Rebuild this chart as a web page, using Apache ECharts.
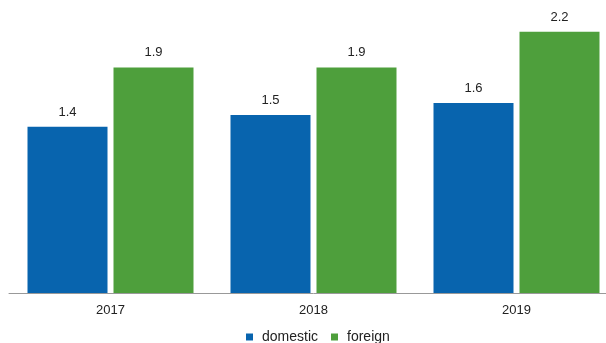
<!DOCTYPE html>
<html><head><meta charset="utf-8">
<script src="https://cdn.jsdelivr.net/npm/echarts@6/dist/echarts.min.js"></script>
<style>html,body{margin:0;padding:0;background:#fff;overflow:hidden;width:606px;height:343px}#c{width:618px;height:343px}</style>
</head><body><div id="c"></div>
<script>
const categories = ['2017', '2018', '2019'];
const domestic = [1.4, 1.5, 1.6];
const foreign = [1.9, 1.9, 2.2];
const seriesNames = ['domestic', 'foreign'];

const chart = echarts.init(document.getElementById('c'), null, {renderer: 'canvas'});
const font = 'Liberation Sans, Arial, sans-serif';
chart.setOption({
  animation: false,
  textStyle: {fontFamily: font},
  grid: {left: 9, right: 0, top: 8, bottom: 50, containLabel: false},
  legend: {
    data: seriesNames, left: 241, top: 325, itemWidth: 7, itemHeight: 7, itemGap: 13,
    icon: 'rect',
    textStyle: {fontSize: 14, color: '#222', fontFamily: font, padding: [0, 0, 0, 4]}
  },
  xAxis: {
    type: 'category', data: categories,
    axisLine: {lineStyle: {color: '#999', width: 1}},
    axisTick: {show: false},
    axisLabel: {fontSize: 13, color: '#222', margin: 11, fontFamily: font}
  },
  yAxis: {type: 'value', min: 0, max: 2.4, show: false, splitLine: {show: false}},
  series: [
    {name: seriesNames[0], type: 'bar', data: domestic, barWidth: 80, barGap: '7.5%',
     itemStyle: {color: '#0864ae'},
     label: {show: true, position: 'top', distance: 8, fontSize: 13, color: '#222', fontFamily: font}},
    {name: seriesNames[1], type: 'bar', data: foreign, barWidth: 80,
     itemStyle: {color: '#4e9f3c'},
     label: {show: true, position: 'top', distance: 8, fontSize: 13, color: '#222', fontFamily: font}}
  ]
});
</script></body></html>
